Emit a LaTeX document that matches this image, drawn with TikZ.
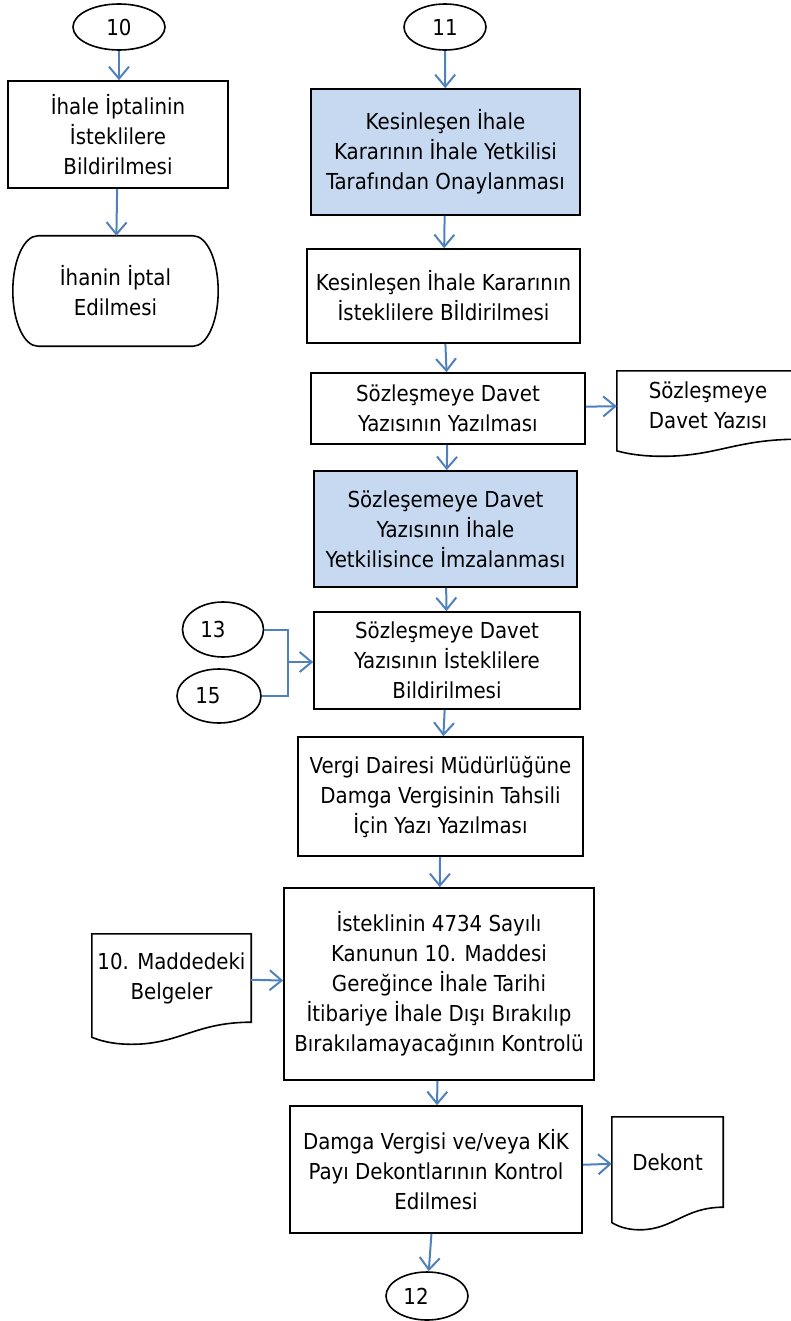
\documentclass[tikz,border=0pt]{standalone}
\usepackage{fontspec}
\setmainfont{DejaVu Sans Condensed}
\usetikzlibrary{calc}
\usetikzlibrary{arrows.meta}
\usetikzlibrary{shapes.geometric}
\definecolor{StepBlue}{HTML}{C6D9F1}
\definecolor{FlowArrow}{HTML}{4F81BD}

% outline of a document symbol around node #1
\newcommand{\docoutline}[1]{%
  \draw[line width=1.6pt] let \p1=(#1.south west), \p2=(#1.north east),
      \n1={\x2-\x1}, \n2={\y2-\y1} in
    (\x1,\y2) -- (\x2,\y2) -- (\x2,\y1)
    .. controls ({\x2-0.35*\n1},\y1) and ({\x1+0.55*\n1},{\y1-0.25*\n2}) .. ({\x1+0.25*\n1},{\y1-0.25*\n2})
    .. controls ({\x1+0.12*\n1},{\y1-0.25*\n2}) and ({\x1+0.04*\n1},{\y1-0.2*\n2}) .. (\x1,{\y1-0.17*\n2})
    -- cycle;}
% outline of a terminal symbol around node #1
\newcommand{\termoutline}[1]{%
  \draw[line width=1.6pt] let \p1=(#1.south west), \p2=(#1.north east),
      \n1={(\y2-\y1)/2} in
    ({\x1+25pt},\y2) -- ({\x2-25pt},\y2)
    arc[start angle=90, end angle=-90, x radius=25pt, y radius=\n1]
    -- ({\x1+25pt},\y1)
    arc[start angle=270, end angle=90, x radius=25pt, y radius=\n1] -- cycle;}

\begin{document}
\begin{tikzpicture}[x=1pt, y=-1pt]
    \tikzstyle{a}=[draw, line width=1.6pt, align=center, inner sep=2pt, font=\fontsize{22}{30}\selectfont]
    \tikzstyle{b}=[a, fill=StepBlue]
    \tikzstyle{c}=[shape=ellipse, draw, line width=1.6pt, inner sep=0pt, font=\fontsize{22}{26}\selectfont]
    \tikzstyle{d}=[align=center, inner sep=0pt, font=\fontsize{22}{30}\selectfont]
    \tikzstyle{e}=[draw=FlowArrow, line width=2pt, -{Straight Barb[length=12pt, width=20pt, line width=2pt]}]

    \useasboundingbox (0,0) rectangle (790,1321);

    % left column
    \node[c, minimum width=92, minimum height=46] (con_10) at (119,27) {10};
    \node[a, minimum width=220, minimum height=107] (iptal_bild) at (118,134.5) {İhale İptalinin\\İsteklilere\\Bildirilmesi};
    \node[d, minimum width=205, minimum height=110] (iptal_end) at (115.5,291) {İhanin İptal\\Edilmesi};
    \termoutline{iptal_end}

    % main column
    \node[c, minimum width=82, minimum height=46] (con_11) at (445,27) {11};
    \node[b, minimum width=269, minimum height=126] (onay) at (445.5,152) {Kesinleşen İhale\\Kararının İhale Yetkilisi\\Tarafından Onaylanması};
    \node[a, minimum width=273, minimum height=94] (kes_bild) at (443.5,296) {Kesinleşen İhale Kararının\\İsteklilere Bİldirilmesi};
    \node[a, minimum width=274, minimum height=71] (davet_yaz) at (448,408.5) {Sözleşmeye Davet\\Yazısının Yazılması};
    \node[d, minimum width=182, minimum height=68] (davet_doc) at (708,405) {Sözleşmeye\\Davet Yazısı};
    \docoutline{davet_doc}
    \node[b, minimum width=263, minimum height=116] (davet_imza) at (445.5,529) {Sözleşemeye Davet\\Yazısının İhale\\Yetkilisince İmzalanması};
    \node[a, minimum width=266, minimum height=97] (davet_bild) at (447,660.5) {Sözleşmeye Davet\\Yazısının İsteklilere\\Bildirilmesi};
    \node[c, minimum width=81, minimum height=55] (con_13) at (223,629.5) {13\hspace*{20pt}};
    \node[c, minimum width=84, minimum height=54] (con_15) at (219,696) {15\hspace*{22pt}};
    \coordinate (con_merge) at (288,662);
    \node[a, minimum width=285, minimum height=119] (vergi) at (440.5,796.5) {Vergi Dairesi Müdürlüğüne\\Damga Vergisinin Tahsili\\İçin Yazı Yazılması};
    \node[a, minimum width=310, minimum height=192] (kanun) at (439,984) {İsteklinin 4734 Sayılı\\Kanunun 10. Maddesi\\Gereğince İhale Tarihi\\İtibariye İhale Dışı Bırakılıp\\Bırakılamayacağının Kontrolü};
    \node[d, minimum width=159, minimum height=88] (belge_doc) at (171.5,978) {10. Maddedeki\\Belgeler};
    \docoutline{belge_doc}
    \node[a, minimum width=292, minimum height=127] (dekont_kont) at (436,1169.5) {Damga Vergisi ve/veya KİK\\Payı Dekontlarının Kontrol\\Edilmesi};
    \node[d, minimum width=111, minimum height=90] (dekont_doc) at (667.5,1162) {Dekont};
    \docoutline{dekont_doc}
    \node[c, minimum width=82, minimum height=48] (con_12) at (427,1296) {12\hspace*{22pt}};

    % connectors
    \draw[e] (con_10.south) -- (con_10 |- iptal_bild.north);
    \draw[e] (iptal_bild) -- (iptal_end);
    \draw[e] (con_11) -- (onay);
    \draw[e] (onay) -- (kes_bild);
    \draw[e] (kes_bild) -- (davet_yaz);
    \draw[e] (davet_yaz) -- (davet_doc);
    \draw[e] (davet_yaz) -- (davet_imza);
    \draw[e] (davet_imza) -- (davet_bild);
    \draw[draw=FlowArrow, line width=2pt] (con_13.east) -| (con_merge);
    \draw[draw=FlowArrow, line width=2pt] (con_15.east) -| (con_merge);
    \draw[e] (con_merge) -- (davet_bild.west |- con_merge);
    \draw[e] (davet_bild) -- (vergi);
    \draw[e] (vergi) -- (kanun);
    \draw[e] (belge_doc) -- (kanun);
    \draw[e] (kanun) -- (dekont_kont);
    \draw[e] (dekont_kont) -- (dekont_doc);
    \draw[e] (dekont_kont) -- (con_12);
\end{tikzpicture}
\end{document}
